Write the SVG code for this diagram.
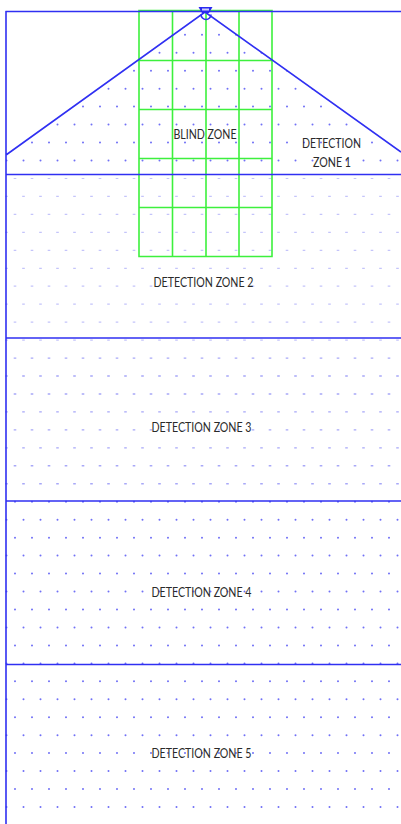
<svg xmlns="http://www.w3.org/2000/svg" width="401" height="824" viewBox="0 0 401 824">
<style>
.t{font-family:Lato,"Liberation Sans",sans-serif;font-size:13px;fill:#2a2a2a;text-anchor:middle}
.b{stroke:#3030f2;fill:none;stroke-width:1.6}
.g{stroke:#3df03d;fill:none;stroke-width:1.6}
.d{stroke:#7070f6;stroke-width:2;stroke-linecap:round;stroke-dasharray:0 17;fill:none}
.f{stroke:#c4c4fa;stroke-width:1.2;stroke-dasharray:2.6 14.4;fill:none}
.m{stroke:#a8a8f8;stroke-width:1.4;stroke-dasharray:2.6 14.4;fill:none}
</style>
<defs>
<clipPath id="roof"><path d="M6 155L205 12L401 152V174H6Z"/></clipPath>
</defs>
<rect width="401" height="824" fill="#fff"/>
<g id="dot-fields">
<g clip-path="url(#roof)">
<path class="d" d="M15 34.800H401M6.500 52.800H401M15 70.700H401M6.500 88.700H401M15 106.600H401M6.500 124.600H401M15 142.500H401M6.500 160.500H401"/>
</g>
<path class="f" d="M13.700 178.500H401M5.200 196.400H401M13.700 214.400H401M5.200 232.300H401M13.700 250.300H401M5.200 268.300H401M13.700 286.200H401M5.200 304.200H401M13.700 322.100H401M5.200 340.100H401"/>
<path class="m" d="M13.700 358.100H401M5.200 376H401M13.700 394H401M5.200 411.900H401M13.700 429.900H401M5.200 447.900H401M13.700 465.800H401M5.200 483.800H401"/>
<path class="d" d="M15 501.700H401M6.500 519.700H401M15 537.700H401M6.500 555.600H401M15 573.600H401M6.500 591.500H401M15 609.500H401M6.500 627.400H401M15 645.400H401M6.500 663.400H401M15 681.300H401M6.500 699.300H401M15 717.200H401M6.500 735.200H401M15 753.100H401M6.500 771.100H401M15 789.100H401M6.500 807H401"/>
</g>
<g id="blind-zone-grid">
<path class="g" d="M139 10.500H272V256.500H139ZM172.500 10.500V256.500M206 10.500V256.500M239 10.500V256.500M139 60.500H272M139 109.500H272M139 158.500H272M139 207.500H272"/>
</g>
<g id="connectors">
<path class="b" d="M5.500 11.500H401M5.500 174.500H401M5.500 338H401M5.500 501H401M5.500 664.500H401M6 11V824M6 155L205 12L401 152"/>
</g>
<g id="sensor">
<path d="M198.500 7H212.500L209 13H202Z" fill="#2a2af0"/><rect x="202" y="8.500" width="7" height="2" fill="#cfd0fa"/>
<path class="b" d="M201 14.500a5 5 0 0 0 10 0" stroke-width="1"/>
</g>
<g id="labels">
<text class="t" x="205" y="139" textLength="63" lengthAdjust="spacingAndGlyphs">BLIND ZONE</text>
<text class="t" x="331.500" y="147.500" textLength="59" lengthAdjust="spacingAndGlyphs">DETECTION</text>
<text class="t" x="332" y="166.500" textLength="38" lengthAdjust="spacingAndGlyphs">ZONE 1</text>
<text class="t" x="203.500" y="287" textLength="100" lengthAdjust="spacingAndGlyphs">DETECTION ZONE 2</text>
<text class="t" x="201.500" y="431.500" textLength="100" lengthAdjust="spacingAndGlyphs">DETECTION ZONE 3</text>
<text class="t" x="201.500" y="596.500" textLength="100" lengthAdjust="spacingAndGlyphs">DETECTION ZONE 4</text>
<text class="t" x="201.500" y="757.500" textLength="100" lengthAdjust="spacingAndGlyphs">DETECTION ZONE 5</text>
</g>
</svg>
